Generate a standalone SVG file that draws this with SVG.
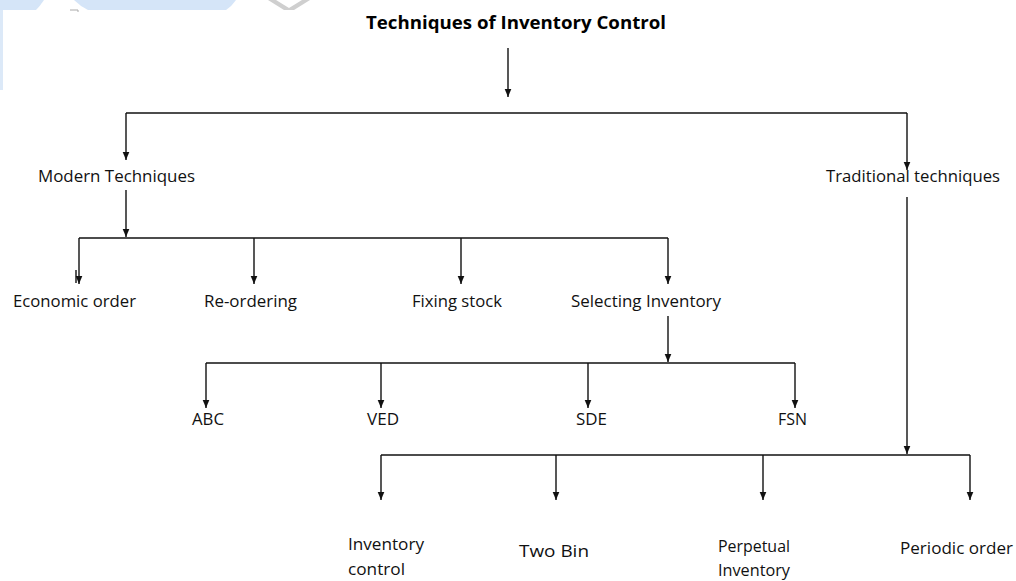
<svg xmlns="http://www.w3.org/2000/svg" width="1016" height="581" viewBox="0 0 1016 581">
<defs>
<marker id="ah" markerUnits="userSpaceOnUse" markerWidth="9" markerHeight="8" refX="8.5" refY="4" orient="auto">
<path d="M0,0.5 L8.5,4 L0,7.5 z" fill="#111"/>
</marker>
<style>
.t{font-family:"Open Sans","Liberation Sans",sans-serif;font-size:16.5px;fill:#111}
.b{font-weight:bold;font-size:17px;fill:#000}
.c{stroke:#111;stroke-width:1.4;fill:none}
.a{marker-end:url(#ah)}
</style>
</defs>
<rect width="1016" height="581" fill="#fff"/>
<g id="watermark">
<path d="M0,0 H44 Q40,6 36,10 H0 z" fill="#d5e5f8"/>
<path d="M74,0 H236 Q232,6 226,10 H88 Q80,6 74,0 z" fill="#d5e5f8"/>
<path d="M268,0 L276,0 L289,8 L302,0 L310,0 L294,10 L284,10 z" fill="#cfcfcf"/>
<rect x="0" y="10" width="3" height="80" fill="#dce9f8"/>
<path d="M70,10 H78 M78,10 V12" stroke="#aaa" stroke-width="1"/>
</g>
<g id="connectors">
<path class="c a" d="M508,48 V97"/>
<path class="c" d="M126,113 H907"/>
<path class="c a" d="M126,113 V160"/>
<path class="c a" d="M907,113 V170"/>
<path class="c a" d="M126,190 V237"/>
<path class="c" d="M79,238 H668"/>
<path class="c a" d="M79,238 V284"/>
<path class="c a" d="M254,238 V284"/>
<path class="c a" d="M461,238 V284"/>
<path class="c a" d="M668,238 V284"/>
<path class="c" d="M76,270 V283" stroke-width="1"/>
<path class="c a" d="M668,316 V362"/>
<path class="c" d="M206,363 H795"/>
<path class="c a" d="M206,363 V408"/>
<path class="c a" d="M381,363 V408"/>
<path class="c a" d="M588,363 V408"/>
<path class="c a" d="M795,363 V408"/>
<path class="c a" d="M907,197 V454"/>
<path class="c" d="M381,455 H970"/>
<path class="c a" d="M381,455 V500"/>
<path class="c a" d="M556,455 V500"/>
<path class="c a" d="M763,455 V500"/>
<path class="c a" d="M970,455 V500"/>
</g>
<g id="root"><text class="t b" x="366" y="29" textLength="300" lengthAdjust="spacingAndGlyphs">Techniques of Inventory Control</text></g>
<g id="modern"><text class="t" x="38" y="182" textLength="157" lengthAdjust="spacingAndGlyphs">Modern Techniques</text></g>
<g id="traditional"><text class="t" x="826" y="182" textLength="174" lengthAdjust="spacingAndGlyphs">Traditional techniques</text></g>
<g id="economic"><text class="t" x="13" y="307" textLength="123" lengthAdjust="spacingAndGlyphs">Economic order</text></g>
<g id="reordering"><text class="t" x="204" y="307" textLength="93" lengthAdjust="spacingAndGlyphs">Re-ordering</text></g>
<g id="fixing"><text class="t" x="412" y="307" textLength="90" lengthAdjust="spacingAndGlyphs">Fixing stock</text></g>
<g id="selecting"><text class="t" x="571" y="307" textLength="150" lengthAdjust="spacingAndGlyphs">Selecting Inventory</text></g>
<g id="abc"><text class="t" x="192" y="425" textLength="32" lengthAdjust="spacingAndGlyphs">ABC</text></g>
<g id="ved"><text class="t" x="367" y="425" textLength="32" lengthAdjust="spacingAndGlyphs">VED</text></g>
<g id="sde"><text class="t" x="576" y="425" textLength="31" lengthAdjust="spacingAndGlyphs">SDE</text></g>
<g id="fsn"><text class="t" x="778" y="425" textLength="29" lengthAdjust="spacingAndGlyphs">FSN</text></g>
<g id="invcontrol"><text class="t" x="348" y="550" textLength="76" lengthAdjust="spacingAndGlyphs">Inventory</text><text class="t" x="348" y="575" textLength="57" lengthAdjust="spacingAndGlyphs">control</text></g>
<g id="twobin"><text class="t" x="519" y="557" textLength="70" lengthAdjust="spacingAndGlyphs">Two Bin</text></g>
<g id="perpetual"><text class="t" x="718" y="552" textLength="72" lengthAdjust="spacingAndGlyphs">Perpetual</text><text class="t" x="718" y="576" textLength="72" lengthAdjust="spacingAndGlyphs">Inventory</text></g>
<g id="periodic"><text class="t" x="900" y="554" textLength="113" lengthAdjust="spacingAndGlyphs">Periodic order</text></g>
</svg>
